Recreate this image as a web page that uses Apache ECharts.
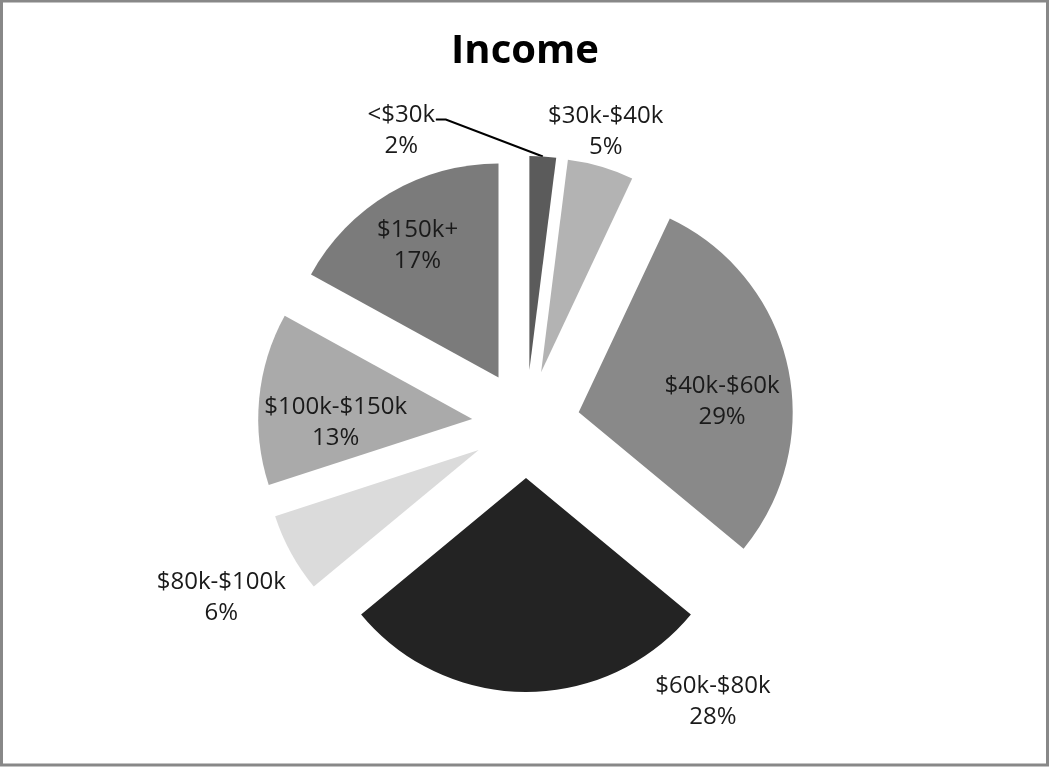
<!DOCTYPE html>
<html>
<head>
<meta charset="utf-8">
<script src="https://cdn.jsdelivr.net/npm/echarts@6/dist/echarts.min.js"></script>
<style>
  html, body { margin: 0; padding: 0; background: #fff; }
  #chart { width: 1050px; height: 767px; }
</style>
</head>
<body>
<div id="chart"></div>
<script>
// Household income brackets and their share of respondents (%)
const categories = ['<$30k', '$30k-$40k', '$40k-$60k', '$60k-$80k', '$80k-$100k', '$100k-$150k', '$150k+'];
const shares = [2, 5, 29, 28, 6, 13, 17];

// Slice fills, grey scale
const sliceColors = ['#5b5b5b', '#b3b3b3', '#898989', '#232323', '#dbdbdb', '#aaaaaa', '#7b7b7b'];

// Label nudges away from the slice-centre label spot, per slice
const labelNudge = [
  [-135, -130], [34, -135], [36, 13], [187, 114], [-161, 95], [-27, 14], [-25, -37]
];

// Pie geometry (pixels)
const PIE_CENTER = [526, 424];
const PIE_RADIUS = 214;
const EXPLODE = 54;

// Leader line for the thin first slice: runs from the slice's outer arc
// up-left to its label, ending in a short horizontal tick.
function leaderPoints() {
  const total = shares.reduce((a, b) => a + b, 0);
  const mid = (shares[0] / total) * Math.PI; // half of the first slice, clockwise from 12 o'clock
  const sx = Math.sin(mid), sy = -Math.cos(mid);
  const tip = [PIE_CENTER[0] + (EXPLODE + PIE_RADIUS) * sx, PIE_CENTER[1] + (EXPLODE + PIE_RADIUS) * sy];
  const bend = [tip[0] - 97, tip[1] - 37];
  const end = [bend[0] - 10, bend[1]];
  return [tip, bend, end];
}

const chart = echarts.init(document.getElementById('chart'), null, { renderer: 'canvas' });

const data = categories.map((name, i) => ({
  name: name,
  value: shares[i],
  selected: true,
  itemStyle: { color: sliceColors[i] }
}));

chart.setOption({
  animation: false,
  backgroundColor: '#ffffff',
  title: {
    text: 'Income',
    left: 'center',
    top: 27,
    textStyle: { fontFamily: 'Open Sans', fontWeight: 'bold', fontSize: 40, color: '#000' }
  },
  graphic: [{
    type: 'rect',
    silent: true,
    shape: { x: 1.5, y: 1, width: 1046, height: 764 },
    style: { fill: 'none', stroke: '#888888', lineWidth: 3 }
  }, {
    type: 'polyline',
    silent: true,
    shape: { points: leaderPoints() },
    style: { fill: 'none', stroke: '#000000', lineWidth: 2 }
  }],
  series: [{
    type: 'pie',
    center: PIE_CENTER,
    radius: PIE_RADIUS,
    startAngle: 90,
    clockwise: true,
    selectedMode: 'multiple',
    selectedOffset: EXPLODE,
    avoidLabelOverlap: false,
    silent: true,
    emphasis: { disabled: true },
    label: {
      show: true,
      position: 'inside',
      formatter: '{b}\n{c}%',
      fontFamily: 'Open Sans',
      fontSize: 24,
      lineHeight: 31,
      color: '#1a1a1a',
      align: 'center'
    },
    labelLine: { show: false },
    labelLayout: function (params) {
      const n = labelNudge[params.dataIndex];
      return { dx: n[0], dy: n[1] };
    },
    data: data
  }]
});
</script>
</body>
</html>
